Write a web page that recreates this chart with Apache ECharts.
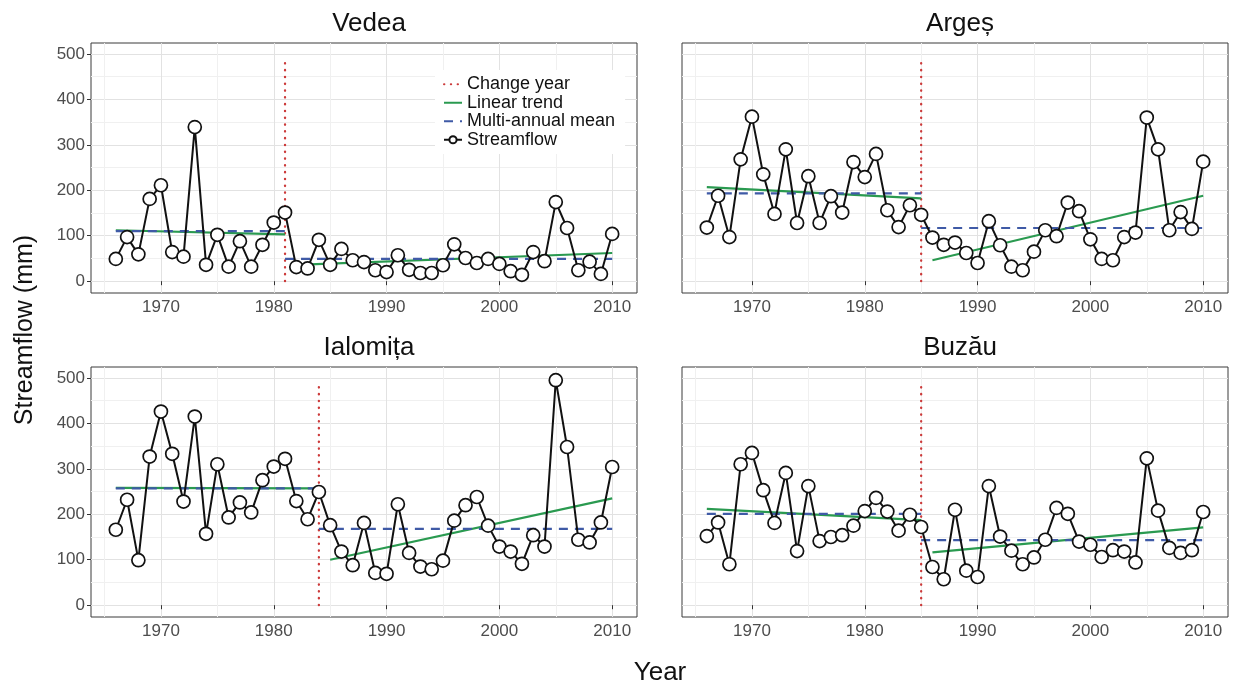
<!DOCTYPE html>
<html>
<head>
<meta charset="utf-8">
<script src="https://cdn.jsdelivr.net/npm/echarts@6.0.0/dist/echarts.min.js"></script>
<style>
html,body{margin:0;padding:0;background:#fff;}
#chart{width:1235px;height:689px;}
</style>
</head>
<body>
<div id="chart"></div>
<script>
// ---------------- DATA ----------------
const years = [1966,1967,1968,1969,1970,1971,1972,1973,1974,1975,1976,1977,1978,1979,1980,
  1981,1982,1983,1984,1985,1986,1987,1988,1989,1990,1991,1992,1993,1994,1995,1996,1997,
  1998,1999,2000,2001,2002,2003,2004,2005,2006,2007,2008,2009,2010];

const basins = ['Vedea', 'Argeș', 'Ialomița', 'Buzău'];

const vedea = [49,97,59,181,211,64,54,339,36,102,32,88,32,80,129,151,31,28,91,36,71,46,42,
  24,20,57,25,18,18,35,81,51,40,49,38,22,14,64,44,174,117,24,43,16,104];
const arges = [118,188,97,268,362,235,148,290,128,231,128,187,151,262,229,280,156,119,167,146,96,80,85,
  62,40,132,79,32,24,65,112,99,173,154,92,49,46,97,107,360,290,112,152,115,263];
const ialomita = [166,232,99,327,426,333,228,415,157,310,193,226,204,275,305,322,229,189,249,176,118,88,181,
  71,69,222,115,85,79,98,186,220,238,175,129,118,91,154,129,495,348,144,138,182,304];
const buzau = [152,182,90,310,335,253,181,291,119,262,141,150,154,175,207,236,206,164,199,172,84,57,210,
  76,62,262,151,120,90,105,144,214,201,140,133,106,121,118,94,323,208,126,115,121,205];

const changeYears      = [1981, 1985, 1984, 1985];
const meanBefore       = [110, 193, 257, 201];
const meanAfter        = [49, 117, 168, 143];
const trendBeforeStart = [112, 207, 258, 212];
const trendBeforeEnd   = [103, 182, 257, 187];
const trendAfterStart  = [36, 46, 100, 116];
const trendAfterEnd    = [62, 188, 235, 171];
const changeLineRange  = [0, 490];

const xMajorTicks = [1970, 1980, 1990, 2000, 2010];
const xMinorTicks = [1965, 1975, 1985, 1995, 2005];
const yMajorTicks = [0, 100, 200, 300, 400, 500];
const yMinorTicks = [50, 150, 250, 350, 450];

const legendNames = ['Change year', 'Linear trend', 'Multi-annual mean', 'Streamflow'];
const axisTitles = { x: 'Year', y: 'Streamflow (mm)' };

// ---------------- LAYOUT / STYLE ----------------
const FONT = '"Liberation Sans", Arial, Helvetica, sans-serif';
const flows = [vedea, arges, ialomita, buzau];
const grids = [
  {left: 91,  top: 43,  width: 546, height: 250},
  {left: 682, top: 43,  width: 546, height: 250},
  {left: 91,  top: 367, width: 546, height: 250},
  {left: 682, top: 367, width: 546, height: 250}
];
const X_MIN = 1963.8, X_MAX = 2012.2, Y_MIN = -26, Y_MAX = 524;
const RED = '#cc3b3b', GREEN = '#2a9a50', BLUE = '#3f5aa6';
const plainNum = v => String(v);

const option = {
  animation: false,
  backgroundColor: '#fff',
  textStyle: {fontFamily: FONT},
  grid: grids.map(g => Object.assign({
    show: true, backgroundColor: '#fff', borderColor: '#3a3a3a', borderWidth: 1, containLabel: false
  }, g)),
  title: basins.map((b, i) => ({
    text: b,
    left: grids[i].left + grids[i].width / 2,
    top: grids[i].top - 37,
    textAlign: 'center',
    textStyle: {fontSize: 26, fontWeight: 'normal', color: '#111', fontFamily: FONT}
  })),
  xAxis: [],
  yAxis: [],
  series: [],
  legend: {
    data: [
      {name: legendNames[0], itemStyle: {opacity: 0}},
      {name: legendNames[1], itemStyle: {opacity: 0}},
      {name: legendNames[2], itemStyle: {opacity: 0}},
      {name: legendNames[3]}
    ],
    orient: 'vertical',
    left: 435,
    top: 70,
    padding: [5, 10, 5, 8],
    itemGap: 0,
    itemWidth: 18,
    itemHeight: 9,
    backgroundColor: '#fff',
    textStyle: {fontSize: 18, color: '#111', lineHeight: 18.5, fontFamily: FONT}
  },
  graphic: [
    {
      type: 'text', x: 25, y: 330, rotation: Math.PI / 2,
      style: {text: axisTitles.y, font: '25px ' + FONT, fill: '#111',
              align: 'center', verticalAlign: 'middle', textAlign: 'center', textVerticalAlign: 'middle'}
    },
    {
      type: 'text', x: 660, y: 673,
      style: {text: axisTitles.x, font: '26px ' + FONT, fill: '#111',
              align: 'center', verticalAlign: 'middle', textAlign: 'center', textVerticalAlign: 'middle'}
    }
  ]
};

grids.forEach((g, i) => {
  const isLeft = (i % 2 === 0);
  option.xAxis.push({
    type: 'value', gridIndex: i, min: X_MIN, max: X_MAX,
    axisLine: {show: false},
    axisTick: {show: true, customValues: xMajorTicks, length: 4, lineStyle: {color: '#333', width: 1}},
    axisLabel: {customValues: xMajorTicks, formatter: plainNum, fontSize: 17, color: '#4d4d4d', margin: 6, fontFamily: FONT},
    splitLine: {show: true, lineStyle: {color: '#e2e2e2', width: 1}}
  });
  option.xAxis.push({
    type: 'value', gridIndex: i, min: X_MIN, max: X_MAX,
    axisLine: {show: false},
    axisTick: {show: false, customValues: xMinorTicks},
    axisLabel: {show: false},
    splitLine: {show: true, lineStyle: {color: '#f0f0f0', width: 1}}
  });
  option.yAxis.push({
    type: 'value', gridIndex: i, min: Y_MIN, max: Y_MAX,
    axisLine: {show: false},
    axisTick: {show: isLeft, customValues: yMajorTicks, length: 4, lineStyle: {color: '#333', width: 1}},
    axisLabel: {show: isLeft, customValues: yMajorTicks, formatter: plainNum, fontSize: 17, color: '#4d4d4d', margin: 6, fontFamily: FONT},
    splitLine: {show: true, lineStyle: {color: '#e2e2e2', width: 1}}
  });
  option.yAxis.push({
    type: 'value', gridIndex: i, min: Y_MIN, max: Y_MAX,
    axisLine: {show: false},
    axisTick: {show: false, customValues: yMinorTicks},
    axisLabel: {show: false},
    splitLine: {show: true, lineStyle: {color: '#f0f0f0', width: 1}}
  });

  const xi = 2 * i, yi = 2 * i;
  const cy = changeYears[i];
  const base = {type: 'line', xAxisIndex: xi, yAxisIndex: yi, symbol: 'none', silent: true};

  option.series.push(Object.assign({}, base, {
    name: legendNames[0], z: 3,
    data: [[cy, changeLineRange[0]], [cy, changeLineRange[1]]],
    lineStyle: {color: RED, width: 2.3, type: [0.4, 6.4], cap: 'round'},
    itemStyle: {color: RED}
  }));
  option.series.push(Object.assign({}, base, {
    name: legendNames[1], z: 4,
    data: [[years[0], trendBeforeStart[i]], [cy, trendBeforeEnd[i]]],
    lineStyle: {color: GREEN, width: 2.2}, itemStyle: {color: GREEN}
  }));
  option.series.push(Object.assign({}, base, {
    name: legendNames[1], z: 4,
    data: [[cy + 1, trendAfterStart[i]], [years[years.length - 1], trendAfterEnd[i]]],
    lineStyle: {color: GREEN, width: 2.2}, itemStyle: {color: GREEN}
  }));
  option.series.push(Object.assign({}, base, {
    name: legendNames[2], z: 4,
    data: [[years[0], meanBefore[i]], [cy, meanBefore[i]]],
    lineStyle: {color: BLUE, width: 2.2, type: [9, 7]}, itemStyle: {color: BLUE}
  }));
  option.series.push(Object.assign({}, base, {
    name: legendNames[2], z: 4,
    data: [[cy, meanAfter[i]], [years[years.length - 1], meanAfter[i]]],
    lineStyle: {color: BLUE, width: 2.2, type: [9, 7]}, itemStyle: {color: BLUE}
  }));
  option.series.push({
    type: 'line', name: legendNames[3], xAxisIndex: xi, yAxisIndex: yi, z: 6,
    data: years.map((y, k) => [y, flows[i][k]]),
    symbol: 'circle', symbolSize: 13, showAllSymbol: true,
    lineStyle: {color: '#111', width: 2},
    itemStyle: {color: '#fff', borderColor: '#111', borderWidth: 1.7}
  });
});

const chart = echarts.init(document.getElementById('chart'), null, {renderer: 'canvas'});
chart.setOption(option);
</script>
</body>
</html>
